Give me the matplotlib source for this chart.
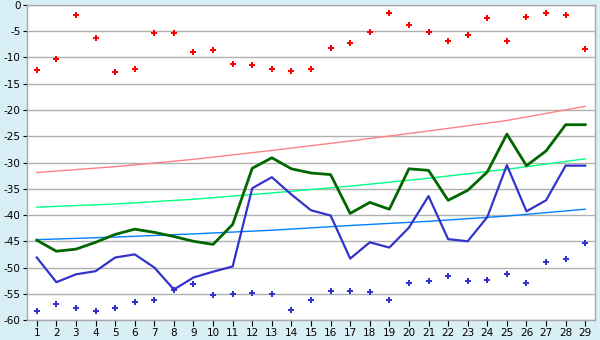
import numpy as np
import matplotlib
matplotlib.use("Agg")
import matplotlib.pyplot as plt

plt.rcParams["axes.unicode_minus"] = False

x = list(range(1, 30))

red_pts = [-12.3, -10.2, -2.0, -6.2, -12.8, -12.1, -5.4, -5.4, -9.0, -8.6,
           -11.3, -11.5, -12.1, -12.6, -12.1, -8.1, -7.3, -5.2, -1.6, -3.9,
           -5.2, -6.9, -5.8, -2.4, -6.9, -2.2, -1.6, -2.0, -8.4]

blue_pts = [-58.2, -57.0, -57.8, -58.2, -57.8, -56.6, -56.1, -54.2, -53.2, -55.3,
            -55.1, -54.9, -55.1, -58.0, -56.1, -54.4, -54.5, -54.7, -56.1, -53.0,
            -52.6, -51.7, -52.6, -52.3, -51.3, -53.0, -49.0, -48.3, -45.4]

blue_line = [-48.1, -52.8, -51.3, -50.7, -48.1, -47.5, -50.0, -54.2, -51.9, -50.8,
             -49.8, -34.9, -32.8, -36.1, -39.1, -40.1, -48.3, -45.2, -46.2, -42.4,
             -36.4, -44.6, -45.0, -40.4, -30.5, -39.3, -37.2, -30.6, -30.6]

green_line = [-44.8, -46.9, -46.5, -45.2, -43.7, -42.7, -43.3, -44.1, -45.0, -45.6,
              -41.8, -31.1, -29.1, -31.2, -32.0, -32.3, -39.7, -37.6, -38.9, -31.2,
              -31.5, -37.2, -35.3, -31.8, -24.6, -30.6, -27.8, -22.8, -22.8]

# trend curves, read at a few x positions
trend_x = [1, 5, 9, 13, 17, 21, 25, 29]
pink_trend = [-31.9, -30.8, -29.4, -27.7, -25.9, -24.0, -22.0, -19.3]
lime_trend = [-38.5, -37.9, -37.0, -35.8, -34.5, -33.0, -31.3, -29.3]
azure_trend = [-44.7, -44.2, -43.6, -42.9, -42.0, -41.2, -40.2, -38.9]

bg = "#d9eff6"
fig = plt.figure(figsize=(6, 3.4), dpi=100, facecolor=bg)
ax = fig.add_axes([0.045, 0.0588, 0.9467, 0.9265])
ax.set_facecolor("white")

ax.plot(trend_x, pink_trend, color="#ff8080", lw=1.0, zorder=2)
ax.plot(trend_x, lime_trend, color="#00ff80", lw=1.0, zorder=2)
ax.plot(trend_x, azure_trend, color="#0080ff", lw=1.0, zorder=2)
ax.plot(x, green_line, color="#006600", lw=2.0, zorder=3)
ax.plot(x, blue_line, color="#3333cc", lw=1.6, zorder=3)
ax.plot(x, red_pts, ls="none", marker="P", ms=5, color="#ff0000", mew=0, zorder=4)
ax.plot(x, blue_pts, ls="none", marker="P", ms=5, color="#3333cc", mew=0, zorder=4)

ax.set_xlim(0.5, 29.5)
ax.set_ylim(-60, 0)
ax.set_xticks(x)
ax.set_yticks(range(-60, 1, 5))
ax.yaxis.grid(True, color="#b0b0b0", lw=1.0)
ax.set_axisbelow(True)
for s in ax.spines.values():
    s.set_color("#a8a8a8")
    s.set_linewidth(1.0)
ax.tick_params(axis="both", labelsize=7.5, colors="#000000", length=4, width=0.8, pad=2)
ax.tick_params(axis="y", length=3, pad=1.5)

fig.savefig("out.png", dpi=100, facecolor=bg)
